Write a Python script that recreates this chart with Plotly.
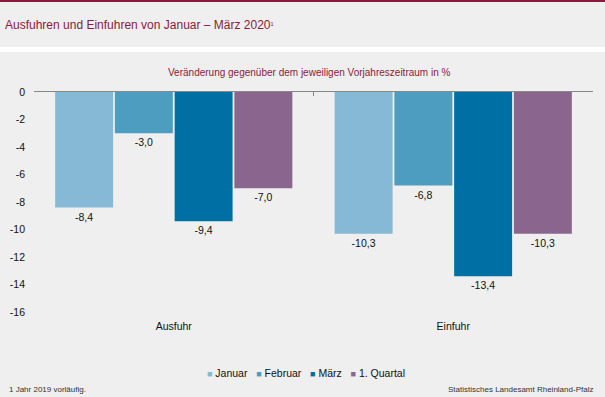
import plotly.graph_objects as go

categories = ["Ausfuhr", "Einfuhr"]
series_names = ["Januar", "Februar", "März", "1. Quartal"]
januar = [-8.4, -10.3]
februar = [-3.0, -6.8]
maerz = [-9.4, -13.4]
quartal = [-7.0, -10.3]
series_values = [januar, februar, maerz, quartal]
colors = ["#85B9D5", "#4C9DC0", "#0070A4", "#8A658E"]
y_ticks = [0, -2, -4, -6, -8, -10, -12, -14, -16]
y_tick_labels = ["0", "-2", "-4", "-6", "-8", "-10", "-12", "-14", "-16"]

FONT = "Liberation Sans, Arial, sans-serif"
BG = "#EEEFEE"
RED = "#8B1A3C"

fig = go.Figure()
for name, vals, col in zip(series_names, series_values, colors):
    fig.add_trace(go.Bar(
        x=categories, y=vals, name=name, showlegend=False,
        marker=dict(color=col, line=dict(width=0)),
        text=[f"{v:.1f}".replace(".", ",") for v in vals],
        textposition="outside", cliponaxis=False,
        textfont=dict(family=FONT, size=10.5, color="#111111"),
    ))

# invisible helper trace to draw the zero axis line with boundary ticks
fig.add_trace(go.Scatter(x=categories, y=[0, 0], xaxis="x2", mode="markers",
                         marker=dict(opacity=0), showlegend=False, hoverinfo="skip"))

W, H = 605, 397
ml, mr, mt, mb = 34, 12, 92, 85
ph = H - mt - mb

def py(pix):
    return (H - mb - pix) / ph

def px(pix):
    return (pix - ml) / (W - ml - mr)

# compact legend built as one text line: coloured square + series name
legend_text = "&nbsp;&nbsp;&nbsp;".join(
    f"<span style='color:{c};font-size:9px'>■</span> {n}" for n, c in zip(series_names, colors)
)

fig.update_layout(
    width=W, height=H,
    margin=dict(l=ml, r=mr, t=mt, b=mb, pad=0, autoexpand=False),
    paper_bgcolor=BG, plot_bgcolor=BG,
    barmode="group", bargap=0.145, bargroupgap=0.03,
    font=dict(family=FONT, size=11, color="#111111"),
    showlegend=False,
    xaxis=dict(type="category", range=[-0.5, 1.5], showline=False, ticks="",
               showgrid=False, zeroline=False, automargin=False,
               tickfont=dict(family=FONT, size=10.5, color="#111111"),
               ticklabelstandoff=6),
    xaxis2=dict(type="category", overlaying="x", side="top", anchor="y", matches="x",
                showline=True, linecolor="#888888", linewidth=1.3, automargin=False,
                ticks="inside", tickson="boundaries", ticklen=4, tickcolor="#888888",
                tickwidth=1.3, showticklabels=False, showgrid=False, zeroline=False),
    yaxis=dict(range=[-16, 0], tickvals=y_ticks, ticktext=y_tick_labels,
               showline=False, showgrid=False, zeroline=False, ticks="", automargin=False,
               tickfont=dict(family=FONT, size=10.5, color="#111111"),
               ticklabelstandoff=8),
    shapes=[
        dict(type="rect", xref="paper", yref="paper", x0=-0.2, x1=1.2,
             y0=py(2), y1=py(-2), fillcolor=RED, line=dict(width=0), layer="below"),
        dict(type="rect", xref="paper", yref="paper", x0=-0.2, x1=1.2,
             y0=py(52), y1=py(47), fillcolor="#FFFFFF", line=dict(width=0), layer="below"),
    ],
    annotations=[
        dict(text="Ausfuhren und Einfuhren von Januar – März 2020<span style='font-size:8px'><sup>1</sup></span>",
             xref="paper", yref="paper", x=px(3), y=py(25),
             xanchor="left", yanchor="middle", showarrow=False,
             font=dict(family=FONT, size=12, color=RED)),
        dict(text="Veränderung gegenüber dem jeweiligen Vorjahreszeitraum in %",
             xref="paper", yref="paper", x=px(309), y=py(72),
             xanchor="center", yanchor="middle", showarrow=False,
             font=dict(family=FONT, size=10, color=RED)),
        dict(text=legend_text,
             xref="paper", yref="paper", x=px(306), y=py(373),
             xanchor="center", yanchor="middle", showarrow=False,
             font=dict(family=FONT, size=10.5, color="#111111")),
        dict(text="1 Jahr 2019 vorläufig.",
             xref="paper", yref="paper", x=px(7), y=py(389),
             xanchor="left", yanchor="middle", showarrow=False,
             font=dict(family=FONT, size=8, color="#333333")),
        dict(text="Statistisches Landesamt Rheinland-Pfalz",
             xref="paper", yref="paper", x=px(595), y=py(389),
             xanchor="right", yanchor="middle", showarrow=False,
             font=dict(family=FONT, size=8, color="#333333")),
    ],
)

fig.write_html("out.html", config={"displayModeBar": False},
               post_script="document.body.style.margin='0';document.body.style.overflow='hidden';")
